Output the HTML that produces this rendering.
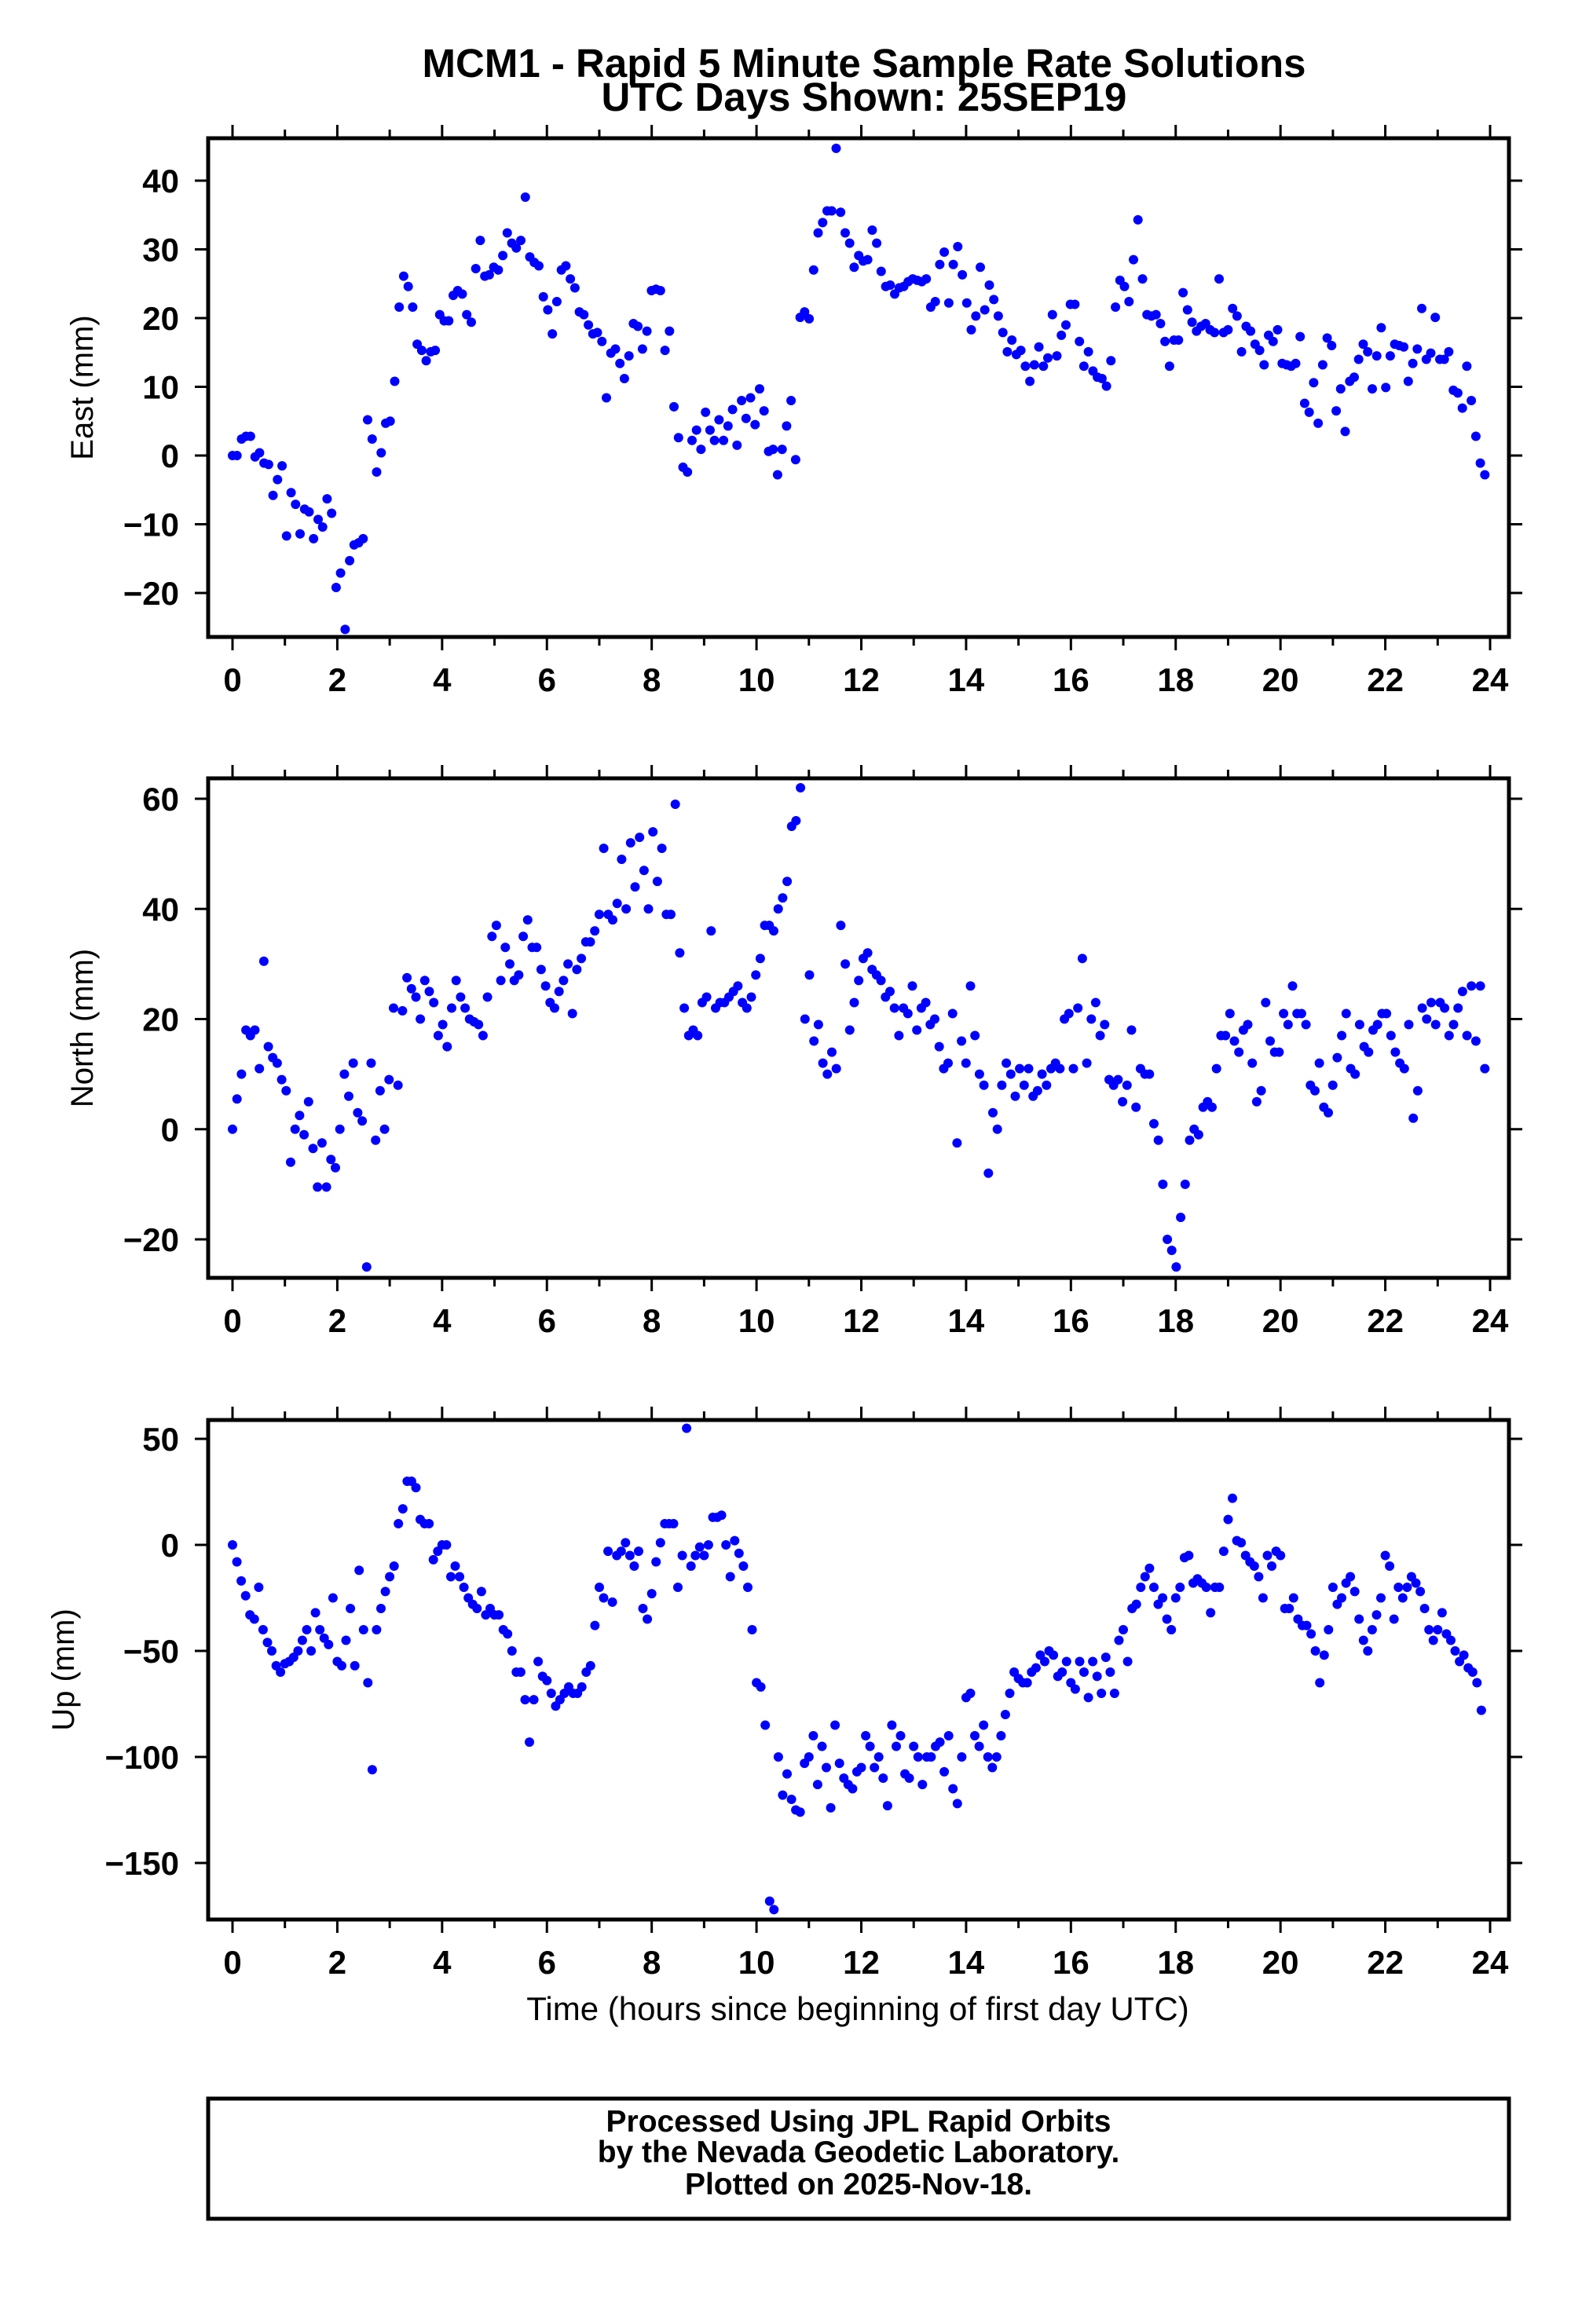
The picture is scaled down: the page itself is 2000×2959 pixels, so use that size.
<!DOCTYPE html>
<html><head><meta charset="utf-8">
<style>
html,body{margin:0;padding:0;background:#fff;}
svg{display:block;}
text{font-family:"Liberation Sans",Arial,sans-serif;}
</style></head>
<body>
<svg id="chart" width="2000" height="2959" viewBox="0 0 2000 2959" xmlns="http://www.w3.org/2000/svg">
<rect x="0" y="0" width="2000" height="2959" fill="#fff"/>
<text x="1100" y="98" text-anchor="middle" font-size="51" font-weight="bold">MCM1 - Rapid 5 Minute Sample Rate Solutions</text>
<text x="1100" y="141" text-anchor="middle" font-size="51" font-weight="bold">UTC Days Shown:  25SEP19</text>
<g id="plots"></g>
<text x="1092" y="2572" text-anchor="middle" font-size="42">Time (hours since beginning of first day UTC)</text>
<rect x="265" y="2672" width="1656" height="153" fill="none" stroke="#000" stroke-width="5"/>
<text x="1093" y="2714" text-anchor="middle" font-size="39" font-weight="bold">Processed Using JPL Rapid Orbits</text>
<text x="1093" y="2753" text-anchor="middle" font-size="39" font-weight="bold">by the Nevada Geodetic Laboratory.</text>
<text x="1093" y="2794" text-anchor="middle" font-size="39" font-weight="bold">Plotted on 2025-Nov-18.</text>
</svg>
<script>
const xTicks = [0,2,4,6,8,10,12,14,16,18,20,22,24];
const eastTicks = [-20,-10,0,10,20,30,40];
const northTicks = [-20,0,20,40,60];
const upTicks = [-150,-100,-50,0,50];
const spanHours = 23.9;
const upIntervalHours = 5/60;
const east = [0,0,2.4,2.8,2.8,-0.2,0.4,-1.1,-1.3,-5.8,-3.5,-1.5,-11.7,-5.4,-7.1,-11.4,-7.8,-8.2,-12.1,-9.3,-10.4,-6.3,-8.4,-19.2,-17.1,-25.3,-15.3,-13,-12.7,-12.1,5.2,2.4,-2.4,0.4,4.7,5,10.8,21.6,26.1,24.6,21.6,16.2,15.3,13.8,15.1,15.3,20.5,19.6,19.6,23.3,24,23.5,20.5,19.4,27.2,31.3,26.1,26.3,27.4,27,29.1,32.4,30.9,30.2,31.3,37.6,28.9,28.1,27.6,23.1,21.2,17.7,22.4,27,27.6,25.7,24.4,20.9,20.5,19,17.7,17.9,16.6,8.4,14.9,15.5,13.4,11.2,14.5,19.2,18.8,15.5,18.1,24,24.2,24,15.3,18.1,7.1,2.6,-1.7,-2.4,2.2,3.7,0.9,6.3,3.7,2.2,5.2,2.2,4.3,6.7,1.5,8,5.4,8.4,4.5,9.7,6.5,0.6,0.9,-2.8,0.9,4.3,8,-0.6,20.1,20.9,19.9,27,32.4,33.9,35.6,35.6,44.7,35.4,32.4,30.9,27.4,29.1,28.3,28.5,32.8,30.9,26.8,24.6,24.8,23.5,24.4,24.6,25.3,25.7,25.5,25.3,25.7,21.6,22.4,27.8,29.6,22.2,27.8,30.4,26.3,22.2,18.3,20.3,27.4,21.2,24.8,22.7,20.3,17.9,15.1,16.8,14.7,15.3,13,10.8,13.2,15.8,13,14.2,20.5,14.5,17.5,19,22,22,16.6,13,15.1,12.3,11.4,11.2,10.1,13.8,21.6,25.5,24.6,22.4,28.5,34.3,25.7,20.5,20.3,20.5,19.2,16.6,13,16.8,16.8,23.7,21.2,19.4,18.1,18.8,19.2,18.3,17.9,25.7,17.9,18.3,21.4,20.3,15.1,18.8,18.1,16.2,15.3,13.2,17.5,16.6,18.3,13.4,13.2,13,13.4,17.3,7.6,6.3,10.6,4.7,13.2,17.1,16,6.5,9.7,3.5,10.8,11.4,14,16.2,15.1,9.7,14.5,18.6,9.9,14.5,16.2,16,15.8,10.8,13.4,15.5,21.4,14,14.9,20.1,14,14,15.1,9.5,9.1,6.9,13,8,2.8,-1.1,-2.8];
const north = [0,5.5,10,18,17,18,11,30.5,15,13,12,9,7,-6,0,2.5,-1,5,-3.5,-10.5,-2.5,-10.5,-5.5,-7,0,10,6,12,3,1.5,-25,12,-2,7,0,9,22,8,21.5,27.5,25.5,24,20,27,25,23,17,19,15,22,27,24,22,20,19.5,19,17,24,35,37,27,33,30,27,28,35,38,33,33,29,26,23,22,25,27,30,21,29,31,34,34,36,39,51,39,38,41,49,40,52,44,53,47,40,54,45,51,39,39,59,32,22,17,18,17,23,24,36,22,23,23,24,25,26,23,22,24,28,31,37,37,36,40,42,45,55,56,62,20,28,16,19,12,10,14,11,37,30,18,23,27,31,32,29,28,27,24,25,22,17,22,21,26,18,22,23,19,20,15,11,12,21,-2.5,16,12,26,17,10,8,-8,3,0,8,12,10,6,11,8,11,6,7,10,8,11,12,11,20,21,11,22,31,12,20,23,17,19,9,8,9,5,8,18,4,11,10,10,1,-2,-10,-20,-22,-25,-16,-10,-2,0,-1,4,5,4,11,17,17,21,16,14,18,19,12,5,7,23,16,14,14,21,19,26,21,21,19,8,7,12,4,3,8,13,17,21,11,10,19,15,14,18,19,21,21,17,14,12,11,19,2,7,22,20,23,19,23,22,17,19,22,25,17,26,16,26,11];
const up = [0,-8,-17,-24,-33,-35,-20,-40,-46,-50,-57,-60,-56,-55,-53,-50,-45,-40,-50,-32,-40,-44,-47,-25,-55,-57,-45,-30,-57,-12,-40,-65,-106,-40,-30,-22,-15,-10,10,17,30,30,27,12,10,10,-7,-3,0,0,-15,-10,-15,-20,-25,-28,-30,-22,-33,-30,-33,-33,-40,-42,-50,-60,-60,-73,-93,-73,-55,-62,-64,-70,-76,-73,-70,-67,-70,-70,-67,-60,-57,-38,-20,-25,-3,-27,-5,-3,1,-5,-10,-3,-30,-35,-23,-8,1,10,10,10,-20,-5,55,-10,-5,-1,-5,0,13,13,14,0,-15,2,-4,-10,-20,-40,-65,-67,-85,-168,-172,-100,-118,-108,-120,-125,-126,-103,-100,-90,-113,-95,-105,-124,-85,-103,-110,-113,-115,-107,-105,-90,-95,-105,-100,-110,-123,-85,-95,-90,-108,-110,-95,-100,-113,-100,-100,-95,-93,-107,-90,-115,-122,-100,-72,-70,-90,-95,-85,-100,-105,-100,-90,-80,-70,-60,-63,-65,-65,-60,-58,-52,-55,-50,-52,-62,-60,-55,-65,-68,-55,-60,-72,-55,-62,-70,-53,-60,-70,-45,-40,-55,-30,-28,-20,-15,-11,-20,-28,-25,-35,-40,-25,-20,-6,-5,-18,-16,-18,-20,-32,-20,-20,-3,12,22,2,1,-5,-8,-10,-15,-25,-5,-10,-3,-5,-30,-30,-25,-35,-38,-38,-42,-50,-65,-52,-40,-20,-28,-25,-18,-15,-22,-35,-45,-50,-40,-33,-25,-5,-10,-35,-20,-25,-20,-15,-18,-22,-30,-40,-45,-40,-32,-42,-45,-50,-55,-52,-58,-60,-65,-78];

const NS = 'http://www.w3.org/2000/svg';
const root = document.getElementById('plots');
const FL = 265, FR = 1921;
function xScale(t){ return 296 + (t/24)*(1897-296); }
function mk(tag, attrs, parent){
  const e = document.createElementNS(NS, tag);
  for (const k in attrs) e.setAttribute(k, attrs[k]);
  parent.appendChild(e);
  return e;
}
const panels = [
  {name:'east', title:'East (mm)', data:east, ticks:eastTicks, top:176, bot:811, v1:40, p1:230, v2:-20, p2:755, tx:118, step:null},
  {name:'north', title:'North (mm)', data:north, ticks:northTicks, top:991, bot:1627, v1:60, p1:1017, v2:-20, p2:1578, tx:118, step:null},
  {name:'up', title:'Up (mm)', data:up, ticks:upTicks, top:1808, bot:2444, v1:50, p1:1832, v2:-150, p2:2372, tx:94, step:upIntervalHours}
];
panels.forEach(p => {
  const yScale = v => p.p1 + (v - p.v1) * (p.p2 - p.p1) / (p.v2 - p.v1);
  const g = mk('g', {}, root);
  
  
  const pts = mk('g', {fill:'#0000ff'}, g);
  
  
  const n = p.data.length;
  const step = p.step || spanHours / (n - 1);
  p.data.forEach((v, i) => {
    const t = i * step;
    const c = mk('circle', {cx:xScale(t).toFixed(1), cy:yScale(v).toFixed(1), r:6}, pts);
    
    
  });
  const fr = mk('rect', {x:FL, y:p.top, width:FR-FL, height:p.bot-p.top, fill:'none', stroke:'#000', 'stroke-width':5}, g);
  
  
  const xa = mk('g', {stroke:'#000', 'stroke-width':3}, g);
  
  
  for (let h = 0; h <= 24; h++) {
    const x = xScale(h), L = (h % 2 === 0) ? 15 : 9;
    mk('line', {x1:x, x2:x, y1:p.bot+2, y2:p.bot+2+L}, xa);
    mk('line', {x1:x, x2:x, y1:p.top-2, y2:p.top-2-L}, xa);
  }
  xTicks.forEach(h => {
    const t = mk('text', {x:xScale(h), y:p.bot+69, 'text-anchor':'middle', 'font-size':42, 'font-weight':'bold'}, g);
    
    
    t.textContent = h;
  });
  p.ticks.forEach(v => {
    const y = yScale(v);
    mk('line', {x1:FL-2, x2:FL-17, y1:y, y2:y, stroke:'#000', 'stroke-width':3}, g);
    mk('line', {x1:FR+2, x2:FR+17, y1:y, y2:y, stroke:'#000', 'stroke-width':3}, g);
    const t = mk('text', {x:228, y:y+15, 'text-anchor':'end', 'font-size':42, 'font-weight':'bold'}, g);
    
    
    t.textContent = v < 0 ? '\u2212' + Math.abs(v) : String(v);
  });
  const yt = mk('text', {x:p.tx, y:(p.top+p.bot)/2, 'text-anchor':'middle', 'font-size':40,
    transform:'rotate(-90 ' + p.tx + ' ' + ((p.top+p.bot)/2) + ')'}, g);
  
  
  yt.textContent = p.title;
});
</script>
</body></html>
